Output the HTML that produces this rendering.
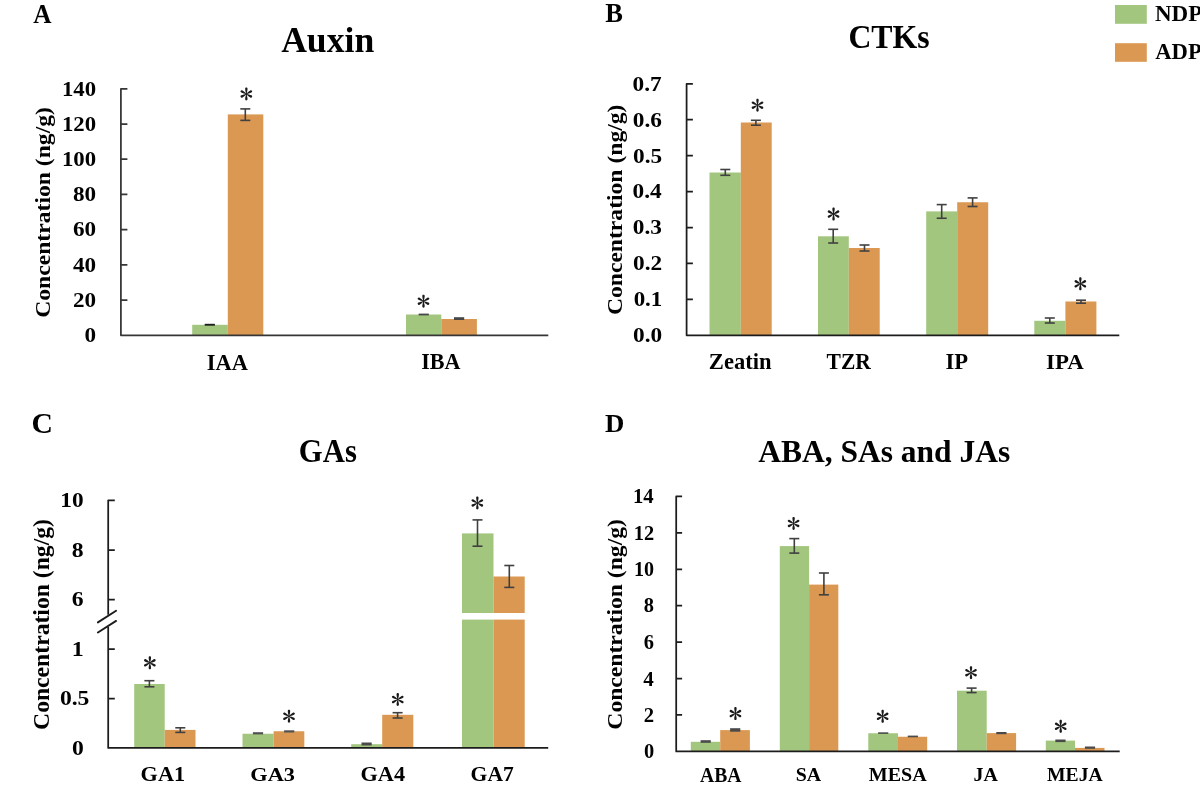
<!DOCTYPE html>
<html><head><meta charset="utf-8"><title>Figure</title>
<style>html,body{margin:0;padding:0;background:#fff;} svg{display:block;filter:blur(0.3px)} text{font-family:"Liberation Serif",serif;fill:#000}</style>
</head><body>
<svg width="1200" height="801" viewBox="0 0 1200 801">
<defs><g id="ast" fill="#1a1a1a"><path d="M-0.3,0 C-0.45,-1.5 -1.2,-3.4 -1.2,-5.10 C-1.2,-6.00 -0.7,-6.5 0,-6.5 C0.7,-6.5 1.2,-6.00 1.2,-5.10 C1.2,-3.4 0.45,-1.5 0.3,0 Z" transform="rotate(0)"/><path d="M-0.3,0 C-0.45,-1.5 -1.2,-3.4 -1.2,-5.10 C-1.2,-6.00 -0.7,-6.5 0,-6.5 C0.7,-6.5 1.2,-6.00 1.2,-5.10 C1.2,-3.4 0.45,-1.5 0.3,0 Z" transform="rotate(61)"/><path d="M-0.3,0 C-0.45,-1.5 -1.2,-3.4 -1.2,-5.10 C-1.2,-6.00 -0.7,-6.5 0,-6.5 C0.7,-6.5 1.2,-6.00 1.2,-5.10 C1.2,-3.4 0.45,-1.5 0.3,0 Z" transform="rotate(119)"/><path d="M-0.3,0 C-0.45,-1.5 -1.2,-3.4 -1.2,-5.10 C-1.2,-6.00 -0.7,-6.5 0,-6.5 C0.7,-6.5 1.2,-6.00 1.2,-5.10 C1.2,-3.4 0.45,-1.5 0.3,0 Z" transform="rotate(180)"/><path d="M-0.3,0 C-0.45,-1.5 -1.2,-3.4 -1.2,-5.10 C-1.2,-6.00 -0.7,-6.5 0,-6.5 C0.7,-6.5 1.2,-6.00 1.2,-5.10 C1.2,-3.4 0.45,-1.5 0.3,0 Z" transform="rotate(241)"/><path d="M-0.3,0 C-0.45,-1.5 -1.2,-3.4 -1.2,-5.10 C-1.2,-6.00 -0.7,-6.5 0,-6.5 C0.7,-6.5 1.2,-6.00 1.2,-5.10 C1.2,-3.4 0.45,-1.5 0.3,0 Z" transform="rotate(299)"/><circle r="0.75"/></g></defs>
<rect width="1200" height="801" fill="#fff"/>
<rect x="192.20" y="324.80" width="35.60" height="10.50" fill="#A2C67E"/>
<rect x="204.70" y="323.80" width="10.20" height="1.90" fill="#1e1e1e"/>
<rect x="227.80" y="114.40" width="35.50" height="220.90" fill="#DB9852"/>
<line x1="245.30" y1="108.90" x2="245.30" y2="120.40" stroke="#404040" stroke-width="1.6"/>
<line x1="240.30" y1="108.90" x2="250.30" y2="108.90" stroke="#404040" stroke-width="1.6"/>
<line x1="240.30" y1="120.40" x2="250.30" y2="120.40" stroke="#404040" stroke-width="1.6"/>
<rect x="406.00" y="314.50" width="35.30" height="20.80" fill="#A2C67E"/>
<rect x="418.65" y="313.60" width="10.20" height="1.80" fill="#474747"/>
<rect x="441.30" y="319.00" width="35.60" height="16.30" fill="#DB9852"/>
<rect x="454.00" y="317.20" width="10.20" height="2.80" fill="#474747"/>
<rect x="709.50" y="172.50" width="31.30" height="162.80" fill="#A2C67E"/>
<line x1="725.30" y1="169.50" x2="725.30" y2="175.30" stroke="#404040" stroke-width="1.6"/>
<line x1="720.30" y1="169.50" x2="730.30" y2="169.50" stroke="#404040" stroke-width="1.6"/>
<line x1="720.30" y1="175.30" x2="730.30" y2="175.30" stroke="#404040" stroke-width="1.6"/>
<rect x="740.80" y="122.50" width="30.90" height="212.80" fill="#DB9852"/>
<line x1="755.90" y1="120.30" x2="755.90" y2="125.20" stroke="#404040" stroke-width="1.6"/>
<line x1="750.90" y1="120.30" x2="760.90" y2="120.30" stroke="#404040" stroke-width="1.6"/>
<line x1="750.90" y1="125.20" x2="760.90" y2="125.20" stroke="#404040" stroke-width="1.6"/>
<rect x="818.00" y="236.30" width="30.80" height="99.00" fill="#A2C67E"/>
<line x1="833.20" y1="229.30" x2="833.20" y2="243.00" stroke="#404040" stroke-width="1.6"/>
<line x1="828.20" y1="229.30" x2="838.20" y2="229.30" stroke="#404040" stroke-width="1.6"/>
<line x1="828.20" y1="243.00" x2="838.20" y2="243.00" stroke="#404040" stroke-width="1.6"/>
<rect x="848.80" y="248.00" width="30.90" height="87.30" fill="#DB9852"/>
<line x1="864.50" y1="245.00" x2="864.50" y2="251.00" stroke="#404040" stroke-width="1.6"/>
<line x1="859.50" y1="245.00" x2="869.50" y2="245.00" stroke="#404040" stroke-width="1.6"/>
<line x1="859.50" y1="251.00" x2="869.50" y2="251.00" stroke="#404040" stroke-width="1.6"/>
<rect x="926.20" y="211.40" width="31.00" height="123.90" fill="#A2C67E"/>
<line x1="941.70" y1="204.60" x2="941.70" y2="218.25" stroke="#404040" stroke-width="1.6"/>
<line x1="936.70" y1="204.60" x2="946.70" y2="204.60" stroke="#404040" stroke-width="1.6"/>
<line x1="936.70" y1="218.25" x2="946.70" y2="218.25" stroke="#404040" stroke-width="1.6"/>
<rect x="957.20" y="202.25" width="31.00" height="133.05" fill="#DB9852"/>
<line x1="972.60" y1="197.90" x2="972.60" y2="206.50" stroke="#404040" stroke-width="1.6"/>
<line x1="967.60" y1="197.90" x2="977.60" y2="197.90" stroke="#404040" stroke-width="1.6"/>
<line x1="967.60" y1="206.50" x2="977.60" y2="206.50" stroke="#404040" stroke-width="1.6"/>
<rect x="1034.30" y="320.80" width="31.10" height="14.50" fill="#A2C67E"/>
<line x1="1049.80" y1="318.00" x2="1049.80" y2="323.00" stroke="#404040" stroke-width="1.6"/>
<line x1="1044.80" y1="318.00" x2="1054.80" y2="318.00" stroke="#404040" stroke-width="1.6"/>
<line x1="1044.80" y1="323.00" x2="1054.80" y2="323.00" stroke="#404040" stroke-width="1.6"/>
<rect x="1065.40" y="301.50" width="31.00" height="33.80" fill="#DB9852"/>
<line x1="1081.00" y1="300.20" x2="1081.00" y2="303.20" stroke="#404040" stroke-width="1.6"/>
<line x1="1076.00" y1="300.20" x2="1086.00" y2="300.20" stroke="#404040" stroke-width="1.6"/>
<line x1="1076.00" y1="303.20" x2="1086.00" y2="303.20" stroke="#404040" stroke-width="1.6"/>
<rect x="134.20" y="684.00" width="30.50" height="63.90" fill="#A2C67E"/>
<line x1="149.40" y1="680.70" x2="149.40" y2="686.80" stroke="#404040" stroke-width="1.6"/>
<line x1="144.40" y1="680.70" x2="154.40" y2="680.70" stroke="#404040" stroke-width="1.6"/>
<line x1="144.40" y1="686.80" x2="154.40" y2="686.80" stroke="#404040" stroke-width="1.6"/>
<rect x="164.70" y="729.90" width="30.80" height="18.00" fill="#DB9852"/>
<line x1="180.30" y1="727.80" x2="180.30" y2="732.40" stroke="#404040" stroke-width="1.6"/>
<line x1="175.30" y1="727.80" x2="185.30" y2="727.80" stroke="#404040" stroke-width="1.6"/>
<line x1="175.30" y1="732.40" x2="185.30" y2="732.40" stroke="#404040" stroke-width="1.6"/>
<rect x="242.50" y="733.75" width="31.10" height="14.15" fill="#A2C67E"/>
<rect x="252.90" y="732.20" width="10.20" height="2.20" fill="#505050"/>
<rect x="273.60" y="731.25" width="30.70" height="16.65" fill="#DB9852"/>
<rect x="284.10" y="730.30" width="10.20" height="2.20" fill="#505050"/>
<rect x="351.20" y="744.20" width="31.00" height="3.70" fill="#A2C67E"/>
<rect x="361.50" y="742.50" width="10.20" height="3.00" fill="#4a4a4a"/>
<rect x="382.20" y="714.80" width="31.10" height="33.10" fill="#DB9852"/>
<line x1="397.60" y1="712.70" x2="397.60" y2="718.00" stroke="#404040" stroke-width="1.6"/>
<line x1="392.60" y1="712.70" x2="402.60" y2="712.70" stroke="#404040" stroke-width="1.6"/>
<line x1="392.60" y1="718.00" x2="402.60" y2="718.00" stroke="#404040" stroke-width="1.6"/>
<rect x="462.00" y="533.40" width="31.50" height="214.50" fill="#A2C67E"/>
<line x1="477.50" y1="519.90" x2="477.50" y2="546.20" stroke="#404040" stroke-width="1.6"/>
<line x1="472.50" y1="519.90" x2="482.50" y2="519.90" stroke="#404040" stroke-width="1.6"/>
<line x1="472.50" y1="546.20" x2="482.50" y2="546.20" stroke="#404040" stroke-width="1.6"/>
<rect x="493.50" y="576.50" width="31.20" height="171.40" fill="#DB9852"/>
<line x1="509.30" y1="565.50" x2="509.30" y2="587.40" stroke="#404040" stroke-width="1.6"/>
<line x1="504.30" y1="565.50" x2="514.30" y2="565.50" stroke="#404040" stroke-width="1.6"/>
<line x1="504.30" y1="587.40" x2="514.30" y2="587.40" stroke="#404040" stroke-width="1.6"/>
<rect x="460.00" y="613.00" width="67.00" height="6.60" fill="#ffffff"/>
<rect x="690.80" y="741.80" width="29.40" height="9.60" fill="#A2C67E"/>
<rect x="700.60" y="740.20" width="10.20" height="2.60" fill="#4a4a4a"/>
<rect x="720.20" y="730.10" width="29.70" height="21.30" fill="#DB9852"/>
<rect x="730.10" y="728.20" width="10.20" height="3.50" fill="#4a4a4a"/>
<rect x="779.80" y="546.10" width="29.30" height="205.30" fill="#A2C67E"/>
<line x1="794.30" y1="538.60" x2="794.30" y2="553.10" stroke="#404040" stroke-width="1.6"/>
<line x1="789.30" y1="538.60" x2="799.30" y2="538.60" stroke="#404040" stroke-width="1.6"/>
<line x1="789.30" y1="553.10" x2="799.30" y2="553.10" stroke="#404040" stroke-width="1.6"/>
<rect x="809.10" y="584.60" width="29.20" height="166.80" fill="#DB9852"/>
<line x1="823.90" y1="573.00" x2="823.90" y2="594.80" stroke="#404040" stroke-width="1.6"/>
<line x1="818.90" y1="573.00" x2="828.90" y2="573.00" stroke="#404040" stroke-width="1.6"/>
<line x1="818.90" y1="594.80" x2="828.90" y2="594.80" stroke="#404040" stroke-width="1.6"/>
<rect x="868.30" y="733.25" width="29.70" height="18.15" fill="#A2C67E"/>
<rect x="878.10" y="732.30" width="10.20" height="1.60" fill="#4a4a4a"/>
<rect x="898.00" y="736.75" width="29.20" height="14.65" fill="#DB9852"/>
<rect x="907.75" y="735.60" width="10.20" height="1.70" fill="#4a4a4a"/>
<rect x="957.00" y="690.70" width="29.70" height="60.70" fill="#A2C67E"/>
<line x1="971.60" y1="688.10" x2="971.60" y2="692.60" stroke="#404040" stroke-width="1.6"/>
<line x1="966.60" y1="688.10" x2="976.60" y2="688.10" stroke="#404040" stroke-width="1.6"/>
<line x1="966.60" y1="692.60" x2="976.60" y2="692.60" stroke="#404040" stroke-width="1.6"/>
<rect x="986.70" y="733.10" width="29.40" height="18.30" fill="#DB9852"/>
<rect x="996.30" y="732.00" width="10.20" height="2.20" fill="#4a4a4a"/>
<rect x="1045.80" y="740.60" width="29.20" height="10.80" fill="#A2C67E"/>
<rect x="1055.35" y="739.50" width="10.20" height="2.60" fill="#4a4a4a"/>
<rect x="1075.00" y="747.90" width="29.50" height="3.50" fill="#DB9852"/>
<rect x="1084.90" y="746.50" width="10.20" height="2.30" fill="#4a4a4a"/>
<path d="M127.40,88.80 L120.90,88.80 L120.90,335.30 L548.30,335.30 M120.90,124.01 L127.40,124.01 M120.90,159.23 L127.40,159.23 M120.90,194.44 L127.40,194.44 M120.90,229.66 L127.40,229.66 M120.90,264.87 L127.40,264.87 M120.90,300.09 L127.40,300.09" stroke="#363636" stroke-width="1.75" fill="none" stroke-linejoin="round"/>
<path d="M692.90,83.80 L686.60,83.80 L686.60,335.30 L1119.30,335.30 M686.60,119.73 L692.90,119.73 M686.60,155.66 L692.90,155.66 M686.60,191.59 L692.90,191.59 M686.60,227.51 L692.90,227.51 M686.60,263.44 L692.90,263.44 M686.60,299.37 L692.90,299.37" stroke="#1c1c1c" stroke-width="1.75" fill="none" stroke-linejoin="round"/>
<path d="M682.10,496.40 L676.20,496.40 L676.20,751.40 L1119.70,751.40 M676.20,532.83 L682.10,532.83 M676.20,569.26 L682.10,569.26 M676.20,605.69 L682.10,605.69 M676.20,642.11 L682.10,642.11 M676.20,678.54 L682.10,678.54 M676.20,714.97 L682.10,714.97" stroke="#1c1c1c" stroke-width="1.75" fill="none" stroke-linejoin="round"/>
<path d="M114.8,500.3 L108.2,500.3 L108.2,614.8 M108.2,627 L108.2,747.9 L548.2,747.9 M108.2,550.0 L114.8,550.0 M108.2,599.5 L114.8,599.5 M108.2,649.2 L114.8,649.2 M108.2,698.7 L114.8,698.7" stroke="#1c1c1c" stroke-width="1.75" fill="none" stroke-linejoin="round"/>
<path d="M97.9,622.4 L116.1,610.7 M97.9,632.5 L116.1,620.9" stroke="#1c1c1c" stroke-width="1.9" stroke-linecap="round" fill="none"/>
<rect x="1115.00" y="5.00" width="31.80" height="18.80" fill="#A2C67E"/>
<rect x="1115.00" y="43.20" width="31.80" height="18.60" fill="#DB9852"/>
<use href="#ast" transform="translate(246.35,93.90)"/>
<use href="#ast" transform="translate(423.50,301.15)"/>
<use href="#ast" transform="translate(757.50,105.20)"/>
<use href="#ast" transform="translate(833.55,214.05)"/>
<use href="#ast" transform="translate(1080.35,283.85)"/>
<use href="#ast" transform="translate(149.85,662.85)"/>
<use href="#ast" transform="translate(289.00,716.25)"/>
<use href="#ast" transform="translate(397.75,699.50)"/>
<use href="#ast" transform="translate(477.35,502.95)"/>
<use href="#ast" transform="translate(735.45,713.60)"/>
<use href="#ast" transform="translate(793.60,523.40)"/>
<use href="#ast" transform="translate(882.65,716.30)"/>
<use href="#ast" transform="translate(971.00,672.70)"/>
<use href="#ast" transform="translate(1060.70,726.30)"/>
<g opacity="0.999">
<text transform="translate(33.25,22.80) scale(0.25286,0.27879)" font-size="100" font-weight="bold">A</text>
<text transform="translate(605.27,22.00) scale(0.26452,0.26615)" font-size="100" font-weight="bold">B</text>
<text transform="translate(31.52,432.72) scale(0.29667,0.28485)" font-size="100" font-weight="bold">C</text>
<text transform="translate(605.06,432.00) scale(0.26769,0.24615)" font-size="100" font-weight="bold">D</text>
<text transform="translate(281.14,52.39) scale(0.35637,0.36071)" font-size="100" font-weight="bold">Auxin</text>
<text transform="translate(848.41,47.56) scale(0.31774,0.34394)" font-size="100" font-weight="bold">CTKs</text>
<text transform="translate(298.86,461.76) scale(0.30718,0.33582)" font-size="100" font-weight="bold">GAs</text>
<text transform="translate(758.19,461.61) scale(0.31493,0.30952)" font-size="100" font-weight="bold">ABA, SAs and JAs</text>
<text transform="translate(1154.94,21.30) scale(0.23012,0.23846)" font-size="100" font-weight="bold">NDP</text>
<text transform="translate(1155.17,58.90) scale(0.22663,0.23485)" font-size="100" font-weight="bold">ADP</text>
<text transform="translate(61.89,95.62) scale(0.22816,0.21324)" font-size="100" font-weight="bold">140</text>
<text transform="translate(61.89,130.84) scale(0.22816,0.21324)" font-size="100" font-weight="bold">120</text>
<text transform="translate(61.89,166.05) scale(0.22816,0.21324)" font-size="100" font-weight="bold">100</text>
<text transform="translate(72.97,201.26) scale(0.23157,0.21642)" font-size="100" font-weight="bold">80</text>
<text transform="translate(72.97,236.47) scale(0.23157,0.21642)" font-size="100" font-weight="bold">60</text>
<text transform="translate(72.97,271.69) scale(0.23157,0.21642)" font-size="100" font-weight="bold">40</text>
<text transform="translate(72.97,306.90) scale(0.23157,0.21642)" font-size="100" font-weight="bold">20</text>
<text transform="translate(84.55,342.12) scale(0.23157,0.21642)" font-size="100" font-weight="bold">0</text>
<text transform="translate(632.52,90.66) scale(0.23316,0.21791)" font-size="100" font-weight="bold">0.7</text>
<text transform="translate(632.75,126.59) scale(0.23316,0.21791)" font-size="100" font-weight="bold">0.6</text>
<text transform="translate(632.99,162.52) scale(0.23316,0.21791)" font-size="100" font-weight="bold">0.5</text>
<text transform="translate(632.52,198.45) scale(0.23316,0.21791)" font-size="100" font-weight="bold">0.4</text>
<text transform="translate(632.75,234.38) scale(0.23316,0.21791)" font-size="100" font-weight="bold">0.3</text>
<text transform="translate(632.99,270.31) scale(0.23316,0.21791)" font-size="100" font-weight="bold">0.2</text>
<text transform="translate(633.63,306.24) scale(0.22974,0.21471)" font-size="100" font-weight="bold">0.1</text>
<text transform="translate(632.99,342.16) scale(0.23316,0.21791)" font-size="100" font-weight="bold">0.0</text>
<text transform="translate(60.24,507.08) scale(0.23294,0.21176)" font-size="100" font-weight="bold">10</text>
<text transform="translate(71.69,556.77) scale(0.23642,0.21493)" font-size="100" font-weight="bold">8</text>
<text transform="translate(71.69,606.27) scale(0.23642,0.21493)" font-size="100" font-weight="bold">6</text>
<text transform="translate(71.70,656.40) scale(0.24000,0.21818)" font-size="100" font-weight="bold">1</text>
<text transform="translate(59.89,705.27) scale(0.23642,0.21493)" font-size="100" font-weight="bold">0.5</text>
<text transform="translate(72.02,754.57) scale(0.23642,0.21493)" font-size="100" font-weight="bold">0</text>
<text transform="translate(632.99,503.45) scale(0.20723,0.21364)" font-size="100" font-weight="bold">14</text>
<text transform="translate(633.70,539.67) scale(0.20413,0.21045)" font-size="100" font-weight="bold">12</text>
<text transform="translate(633.99,575.89) scale(0.20113,0.20735)" font-size="100" font-weight="bold">10</text>
<text transform="translate(643.71,612.31) scale(0.20413,0.21045)" font-size="100" font-weight="bold">8</text>
<text transform="translate(643.71,648.74) scale(0.20413,0.21045)" font-size="100" font-weight="bold">6</text>
<text transform="translate(643.20,685.59) scale(0.21042,0.21692)" font-size="100" font-weight="bold">4</text>
<text transform="translate(643.77,721.81) scale(0.20723,0.21364)" font-size="100" font-weight="bold">2</text>
<text transform="translate(643.91,758.03) scale(0.20413,0.21045)" font-size="100" font-weight="bold">0</text>
<text transform="translate(206.82,369.50) scale(0.22500,0.23864)" font-size="100" font-weight="bold">IAA</text>
<text transform="translate(421.24,368.75) scale(0.22126,0.22045)" font-size="100" font-weight="bold">IBA</text>
<text transform="translate(708.87,369.27) scale(0.22583,0.22571)" font-size="100" font-weight="bold">Zeatin</text>
<text transform="translate(826.57,369.20) scale(0.21561,0.23077)" font-size="100" font-weight="bold">TZR</text>
<text transform="translate(945.52,369.20) scale(0.22660,0.23077)" font-size="100" font-weight="bold">IP</text>
<text transform="translate(1046.11,369.00) scale(0.22919,0.21970)" font-size="100" font-weight="bold">IPA</text>
<text transform="translate(140.59,781.39) scale(0.22263,0.20746)" font-size="100" font-weight="bold">GA1</text>
<text transform="translate(250.28,780.50) scale(0.22344,0.19853)" font-size="100" font-weight="bold">GA3</text>
<text transform="translate(360.49,780.99) scale(0.22280,0.21194)" font-size="100" font-weight="bold">GA4</text>
<text transform="translate(470.62,780.99) scale(0.21606,0.21194)" font-size="100" font-weight="bold">GA7</text>
<text transform="translate(700.00,781.50) scale(0.19617,0.20455)" font-size="100" font-weight="bold">ABA</text>
<text transform="translate(795.70,781.10) scale(0.19918,0.19853)" font-size="100" font-weight="bold">SA</text>
<text transform="translate(868.80,781.13) scale(0.20070,0.18529)" font-size="100" font-weight="bold">MESA</text>
<text transform="translate(973.50,781.31) scale(0.19915,0.18806)" font-size="100" font-weight="bold">JA</text>
<text transform="translate(1047.01,781.31) scale(0.19679,0.18806)" font-size="100" font-weight="bold">MEJA</text>
<text transform="translate(50.47,317.78) rotate(-90) scale(0.23639,0.21556)" font-size="100" font-weight="bold">Concentration (ng/g)</text>
<text transform="translate(621.95,315.08) rotate(-90) scale(0.23617,0.21667)" font-size="100" font-weight="bold">Concentration (ng/g)</text>
<text transform="translate(49.33,729.93) rotate(-90) scale(0.23668,0.22222)" font-size="100" font-weight="bold">Concentration (ng/g)</text>
<text transform="translate(621.95,729.68) rotate(-90) scale(0.23639,0.21667)" font-size="100" font-weight="bold">Concentration (ng/g)</text>
</g>
</svg>
</body></html>
